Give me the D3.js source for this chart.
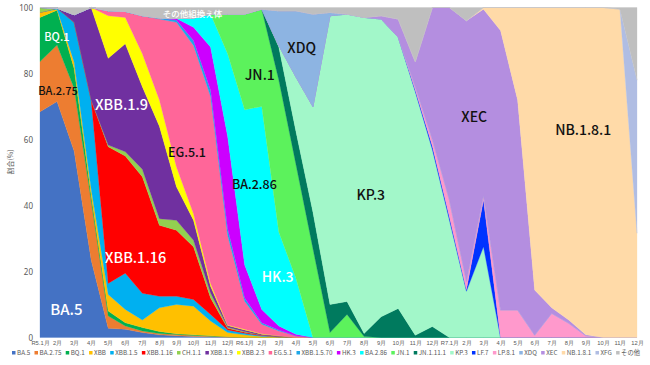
<!DOCTYPE html>
<html>
<head>
<meta charset="utf-8" />
<script src="https://cdn.jsdelivr.net/npm/d3@7"></script>
<style>
  body { margin: 0; background: #fff; }
  svg { display: block; font-family: "Noto Sans CJK JP", "Noto Sans", sans-serif; }
</style>
</head>
<body>
<script>
  // month labels (R5.1 .. R7.12)
  const months = [
    "R5.1月", "2月", "3月", "4月", "5月", "6月", "7月", "8月", "9月", "10月", "11月", "12月",
    "R6.1月", "2月", "3月", "4月", "5月", "6月", "7月", "8月", "9月", "10月", "11月", "12月",
    "R7.1月", "2月", "3月", "4月", "5月", "6月", "7月", "8月", "9月", "10月", "11月", "12月",
  ];

  const variants = [
    "BA.5", "BA.2.75", "BQ.1", "XBB", "XBB.1.5", "XBB.1.16", "CH.1.1", "XBB.1.9",
    "XBB.2.3", "EG.5.1", "XBB.1.5.70", "HK.3", "BA.2.86", "JN.1", "JN.1.11.1", "KP.3",
    "LF.7", "LP.8.1", "XDQ", "XEC", "NB.1.8.1", "XFG", "その他",
  ];

  const colors = [
    "#4472c4", "#ed7d31", "#00b050", "#ffc000", "#00b0f0", "#ff0000", "#92d050", "#7030a0",
    "#ffff00", "#ff6699", "#1ea7e8", "#cc00ff", "#00ffff", "#5cf25c", "#007a5e", "#a2f7c9",
    "#0033ff", "#ff99cc", "#8db4e2", "#b48ee0", "#ffdaa8", "#b0bde3", "#bfbfbf",
  ];

  // share (%) per month
  const ba5 = [68.4, 71.5, 56.5, 23.5, 2.8, 2.5, 1.5, 0.8, 0.5, 0.3, 0.2, 0.1, 0, 0, 0, 0, 0, 0, 0, 0, 0, 0, 0, 0, 0, 0, 0, 0, 0, 0, 0, 0, 0, 0, 0, 0];
  const ba275 = [15.2, 17.1, 19, 18, 3.7, 1.0, 0.5, 0.4, 0.4, 0.3, 0.2, 0.1, 0, 0, 0, 0, 0, 0, 0, 0, 0, 0, 0, 0, 0, 0, 0, 0, 0, 0, 0, 0, 0, 0, 0, 0];
  const bq1 = [13.4, 10.6, 6, 1.5, 1.5, 1.0, 1.0, 0.6, 0.2, 0.2, 0.1, 0, 0, 0, 0, 0, 0, 0, 0, 0, 0, 0, 0, 0, 0, 0, 0, 0, 0, 0, 0, 0, 0, 0, 0, 0];
  const xbb = [1.5, 0.3, 2, 2, 5, 4, 2.3, 7.2, 8.9, 8.7, 4.5, 1.3, 0.8, 0.3, 0.2, 0, 0, 0, 0, 0, 0, 0, 0, 0, 0, 0, 0, 0, 0, 0, 0, 0, 0, 0, 0, 0];
  const xbb15 = [0, 0.3, 12, 27, 3.4, 11, 8.1, 3.5, 2.5, 2, 2, 0.8, 0.5, 0.2, 0, 0, 0, 0, 0, 0, 0, 0, 0, 0, 0, 0, 0, 0, 0, 0, 0, 0, 0, 0, 0, 0];
  const xbb116 = [0, 0, 0, 0, 41.4, 35.5, 35.3, 21.5, 20, 16, 5, 0.5, 0.3, 0.2, 0, 0, 0, 0, 0, 0, 0, 0, 0, 0, 0, 0, 0, 0, 0, 0, 0, 0, 0, 0, 0, 0];
  const ch11 = [1.5, 0, 0, 0, 0.5, 1.3, 2.3, 2, 3, 2, 1.5, 0.3, 0.2, 0, 0, 0, 0, 0, 0, 0, 0, 0, 0, 0, 0, 0, 0, 0, 0, 0, 0, 0, 0, 0, 0, 0];
  const xbb19 = [0, 0, 2.3, 28, 26.3, 32.7, 25, 28, 10.2, 6, 2, 0.5, 0.5, 0.3, 0.3, 0, 0, 0, 0, 0, 0, 0, 0, 0, 0, 0, 0, 0, 0, 0, 0, 0, 0, 0, 0, 0];
  const xbb23 = [0, 0, 0, 0, 12.9, 8, 10, 8, 6, 2, 0.9, 0.2, 0.2, 0.1, 0, 0, 0, 0, 0, 0, 0, 0, 0, 0, 0, 0, 0, 0, 0, 0, 0, 0, 0, 0, 0, 0];
  const eg51 = [0, 0, 0, 0, 1.5, 1.8, 11.5, 24.5, 43.8, 51, 56.6, 27.2, 8.5, 2.9, 1.5, 0.5, 0, 0, 0, 0, 0, 0, 0, 0, 0, 0, 0, 0, 0, 0, 0, 0, 0, 0, 0, 0];
  const xbb1570 = [0, 0, 0, 0, 0, 0, 0, 0.3, 0.7, 1.5, 2, 2, 1, 0.5, 0.3, 0, 0, 0, 0, 0, 0, 0, 0, 0, 0, 0, 0, 0, 0, 0, 0, 0, 0, 0, 0, 0];
  const hk3 = [0, 0, 0, 0, 0, 0, 0, 0, 0.5, 4, 13, 28, 10, 4, 1.2, 0.5, 0, 0, 0, 0, 0, 0, 0, 0, 0, 0, 0, 0, 0, 0, 0, 0, 0, 0, 0, 0];
  const ba286 = [0, 0, 0, 0, 0, 0, 0, 0, 0, 2.8, 10, 25, 47, 61.5, 28.5, 17, 0, 0, 0, 0, 0, 0, 0, 0, 0, 0, 0, 0, 0, 0, 0, 0, 0, 0, 0, 0];
  const jn1 = [0, 0, 0, 0, 0, 0, 0, 0, 0, 0, 0, 12, 29, 29.5, 46, 34.6, 27, 1.5, 7, 0.3, 0, 0, 0, 0, 0, 0, 0, 0, 0, 0, 0, 0, 0, 0, 0, 0];
  const jn1111 = [0, 0, 0, 0, 0, 0, 0, 0, 0, 0, 0, 0, 0, 0, 10, 10, 11, 8.5, 3.9, 0.9, 6.3, 8.8, 0.7, 3.3, 0, 0, 0, 0, 0, 0, 0, 0, 0, 0, 0, 0];
  const kp3 = [0, 0, 0, 0, 0, 0, 0, 0, 0, 0, 0, 0, 0, 0, 0.5, 16.4, 32, 87.5, 87.1, 95.8, 90.2, 82.2, 73.8, 53.7, 35.6, 14, 27.5, 0, 0, 0, 0, 0, 0, 0, 0, 0];
  const lf7 = [0, 0, 0, 0, 0, 0, 0, 0, 0, 0, 0, 0, 0, 0, 0, 0, 0, 0, 0, 0, 0, 0, 0.5, 1, 1, 0.5, 14.2, 0, 0, 0, 0, 0, 0, 0, 0, 0];
  const lp81 = [0, 0, 0, 0, 0, 0, 0, 0, 0, 0, 0, 0, 0, 0, 0, 0, 0, 0, 0, 0, 0, 0, 1, 2, 5.1, 2.5, 1.3, 8.3, 8.3, 0.7, 7.3, 4.3, 0.5, 0, 0, 0];
  const xdq = [0, 0, 0, 0, 0, 0, 0, 0, 0, 0, 0, 0, 0, 0, 10.5, 20, 28, 1, 0, 0, 0, 0, 0, 0, 0, 0, 0, 0, 0, 0, 0, 0, 0, 0, 0, 0];
  const xec = [0, 0, 0, 0, 0, 0, 0, 0, 0, 0, 0, 0, 0, 0, 0, 0, 0, 0, 0, 0, 1, 5.5, 7.6, 40, 58.3, 79, 56.5, 84.7, 63.7, 13.7, 1.7, 1, 0.3, 0, 0, 0];
  const nb181 = [0, 0, 0, 0, 0, 0, 0, 0, 0, 0, 0, 0, 0, 0, 0, 0, 0, 0, 0, 0, 0, 0, 0, 0, 0, 0, 0.5, 7, 28, 85.6, 91, 94.7, 99.2, 100, 99.5, 31.6];
  const xfg = [0, 0, 0, 0, 0, 0, 0, 0, 0, 0, 0, 0, 0, 0, 0, 0, 0, 0, 0, 0, 0, 0, 0, 0, 0, 0, 0, 0, 0, 0, 0, 0, 0, 0, 0, 46.4];
  const other = [0, 0.2, 2.2, 0, 1, 1.2, 2.5, 3.2, 3.3, 3.2, 2, 2, 2, 0.5, 1, 1, 2, 1.5, 2, 3, 2.5, 3.5, 16.4, 0, 0, 4, 0, 0, 0, 0, 0, 0, 0, 0, 0.5, 22];

  const series = [ba5, ba275, bq1, xbb, xbb15, xbb116, ch11, xbb19, xbb23, eg51, xbb1570, hk3,
    ba286, jn1, jn1111, kp3, lf7, lp81, xdq, xec, nb181, xfg, other];

  // area labels: [text, month position, value, size, colour]
  const labels = [
    ["BQ.1", 0.25, 91, 11, "#fff"],
    ["BA.2.75", -0.1, 74.7, 11, "#111"],
    ["XBB.1.9", 3.22, 70.5, 14.5, "#fff"],
    ["EG.5.1", 7.5, 55.9, 12.5, "#111"],
    ["XBB.1.16", 3.8, 24, 14.5, "#fff"],
    ["BA.5", 0.6, 8.3, 15, "#fff"],
    ["JN.1", 12, 79.5, 14, "#111"],
    ["XDQ", 14.5, 87.7, 14, "#111"],
    ["BA.2.86", 11.25, 46.2, 12.5, "#111"],
    ["HK.3", 13, 18.3, 14, "#fff"],
    ["KP.3", 18.55, 43.2, 14, "#111"],
    ["XEC", 24.7, 66.8, 14, "#111"],
    ["NB.1.8.1", 30.2, 62.9, 14, "#111"],
    ["その他組換え体", 7.2, 98, 8.5, "#fff"],
  ];

  const width = 650, height = 365;
  const svg = d3.select("body").append("svg").attr("width", width).attr("height", height);

  const x = d3.scaleLinear().domain([0, months.length - 1]).range([40, 637]);
  const y = d3.scaleLinear().domain([0, 100]).range([337.5, 7.5]);

  const table = months.map((m, i) => {
    const row = { month: m };
    variants.forEach((v, k) => (row[v] = series[k][i]));
    return row;
  });

  const stacked = d3.stack().keys(variants)(table);

  const area = d3
    .area()
    .x((d, i) => x(i))
    .y0((d) => y(d[0]))
    .y1((d) => y(d[1]));

  svg
    .append("g")
    .selectAll("path")
    .data(stacked)
    .join("path")
    .attr("fill", (d, k) => colors[k])
    .attr("stroke", (d, k) => colors[k])
    .attr("stroke-width", 0.3)
    .attr("d", area);

  // axes
  const yAxis = svg
    .append("g")
    .attr("transform", "translate(33,0)")
    .call(d3.axisLeft(y).tickValues([0, 20, 40, 60, 80, 100]).tickSize(0).tickPadding(0));
  yAxis.select(".domain").remove();
  yAxis.selectAll("text").attr("font-size", 8).attr("fill", "#595959").attr("font-family", "Noto Sans");

  const xAxis = svg
    .append("g")
    .attr("transform", `translate(0,${y(0)})`)
    .call(
      d3.axisBottom(x)
        .tickValues(d3.range(months.length))
        .tickFormat((i) => months[i])
        .tickSize(0)
        .tickPadding(3)
    );
  xAxis.select(".domain").remove();
  xAxis.selectAll("text").attr("font-size", 5.8).attr("fill", "#595959");

  svg
    .append("text")
    .attr("transform", "translate(13,162) rotate(-90)")
    .attr("text-anchor", "middle")
    .attr("font-size", 7)
    .attr("fill", "#595959")
    .text("割合(%)");

  // labels on the areas
  svg
    .append("g")
    .selectAll("text")
    .data(labels)
    .join("text")
    .attr("x", (d) => x(d[1]))
    .attr("y", (d) => y(d[2]))
    .attr("dy", "0.35em")
    .attr("font-size", (d) => d[3])
    .attr("font-weight", 500)
    .attr("fill", (d) => d[4])
    .text((d) => d[0]);

  // legend, spread across the bottom
  const legend = svg.append("g").attr("transform", "translate(0,353)");
  const items = legend
    .selectAll("g")
    .data(variants)
    .join("g");
  items
    .append("rect")
    .attr("y", -2)
    .attr("width", 3.5)
    .attr("height", 3.5)
    .attr("fill", (d, k) => colors[k]);
  items
    .append("text")
    .attr("x", 5)
    .attr("dy", "0.32em")
    .attr("font-size", 6.3)
    .attr("fill", "#595959")
    .text((d) => d);

  const widths = [];
  items.each(function () {
    widths.push(5 + d3.select(this).select("text").node().getComputedTextLength());
  });
  const gap = (640 - 12 - d3.sum(widths)) / (variants.length - 1);
  let pos = 12;
  items.attr("transform", (d, k) => {
    const t = `translate(${pos},0)`;
    pos += widths[k] + gap;
    return t;
  });
</script>
</body>
</html>
